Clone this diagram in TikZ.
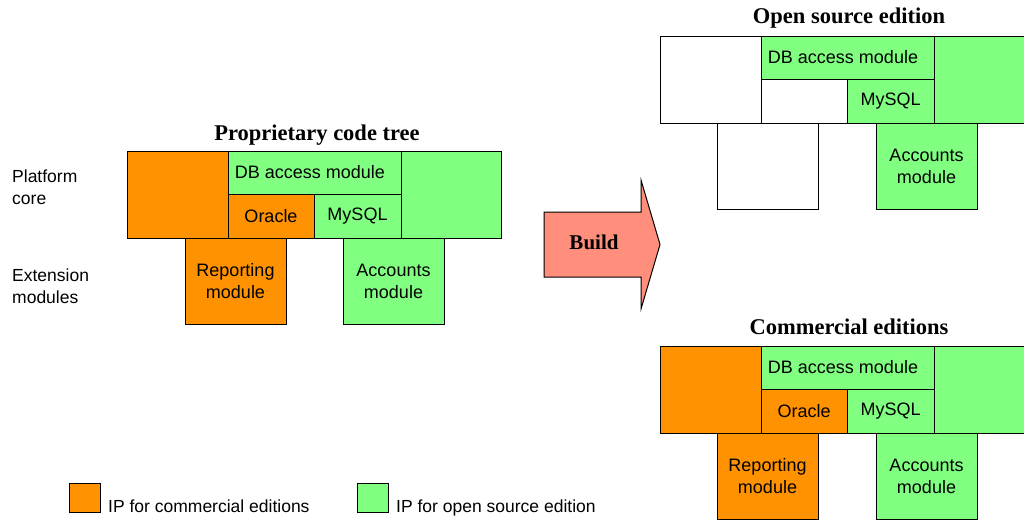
\documentclass[tikz,border=0pt]{standalone}
\usepackage{fontspec}
\setmainfont{Liberation Sans}
\newfontfamily\headfont{Liberation Serif}
\usepackage{tikz}
\usetikzlibrary{positioning,calc}
\definecolor{ipcommercial}{RGB}{255,146,0}
\definecolor{ipopen}{RGB}{128,255,128}
\definecolor{buildred}{RGB}{255,142,124}
\tikzset{
  blk/.style={draw, line width=1pt, inner sep=0pt, outer sep=0pt,
    anchor=north west, align=center,
    font=\fontsize{18}{22}\selectfont},
  comblk/.style={blk, fill=ipcommercial},
  osblk/.style={blk, fill=ipopen},
  emptyblk/.style={blk, fill=white},
  heading/.style={font=\headfont\bfseries\fontsize{22.5}{26}\selectfont},
  rowlabel/.style={anchor=west, align=left, inner sep=0pt,
    font=\fontsize{17.5}{22}\selectfont},
  legtext/.style={anchor=base west, inner sep=0pt,
    font=\fontsize{17.5}{22}\selectfont},
  buildarrow/.style={draw, line width=1pt, fill=buildred},
}

\begin{document}
\begin{tikzpicture}[x=1pt, y=-1pt]
  \useasboundingbox (0,0) rectangle (1024,520);

  % row captions
  \node[rowlabel] (lcore) at (12,187) {Platform\\core};
  \node[rowlabel] (lext) at (12,286) {Extension\\modules};

  % proprietary tree
  \node[heading] (ptitle) at (317,135) {Proprietary code tree};
  \node[comblk, minimum width=101, minimum height=87] (pbase) at (127,151) {};
  \node[osblk, minimum width=173, minimum height=43] (pdb) at (pbase.north east) {DB access module\hspace*{9pt}};
  \node[comblk, minimum width=86, minimum height=44] (pora) at (pdb.south west) {Oracle};
  \node[osblk, minimum width=87, minimum height=44] (pmy) at (pora.north east) {MySQL};
  \node[osblk, minimum width=100, minimum height=87] (pright) at (pdb.north east) {};
  \node[comblk, minimum width=101, minimum height=86] (prep) at (185,238) {Reporting\\module};
  \node[osblk, minimum width=101, minimum height=86] (pacc) at (343,238) {Accounts\\module};

  % build arrow
  \draw[buildarrow] (544,212) -- (641,212) -- (641,180) -- (660,244.5)
    -- (641,309) -- (641,277) -- (544,277) -- cycle;
  \node[heading, font=\headfont\bfseries\fontsize{21}{24}\selectfont] (build) at (594,242) {Build};

  % open source edition
  \begin{scope}[shift={(533,-115)}]
    \node[heading] (otitle) at (316,133) {Open source edition};
    \node[emptyblk, minimum width=101, minimum height=87] (obase) at (127,151) {};
    \node[osblk, minimum width=173, minimum height=43] (odb) at (obase.north east) {DB access module\hspace*{9pt}};
    \node[emptyblk, minimum width=86, minimum height=44] (oora) at (odb.south west) {};
    \node[osblk, minimum width=87, minimum height=44] (omy) at (oora.north east) {MySQL};
    \node[osblk, minimum width=100, minimum height=87] (oright) at (odb.north east) {};
    \node[emptyblk, minimum width=101, minimum height=86] (orep) at (184,238) {};
    \node[osblk, minimum width=101, minimum height=86] (oacc) at (343,238) {Accounts\\module};
  \end{scope}

  % commercial editions
  \begin{scope}[shift={(533,195)}]
    \node[heading] (ctitle) at (316,132) {Commercial editions};
    \node[comblk, minimum width=101, minimum height=87] (cbase) at (127,151) {};
    \node[osblk, minimum width=173, minimum height=43] (cdb) at (cbase.north east) {DB access module\hspace*{9pt}};
    \node[comblk, minimum width=86, minimum height=44] (cora) at (cdb.south west) {Oracle};
    \node[osblk, minimum width=87, minimum height=44] (cmy) at (cora.north east) {MySQL};
    \node[osblk, minimum width=100, minimum height=87] (cright) at (cdb.north east) {};
    \node[comblk, minimum width=101, minimum height=86] (crep) at (184,238) {Reporting\\module};
    \node[osblk, minimum width=101, minimum height=86] (cacc) at (343,238) {Accounts\\module};
  \end{scope}

  % legend
  \node[comblk, minimum width=31, minimum height=29] (legcom) at (69,483) {};
  \node[legtext] (legcomtxt) at ($(legcom.south east)+(8,0)$) {IP for commercial editions};
  \node[osblk, minimum width=31, minimum height=29] (legos) at (357,483) {};
  \node[legtext] (legostxt) at ($(legos.south east)+(8,0)$) {IP for open source edition};
\end{tikzpicture}
\end{document}
